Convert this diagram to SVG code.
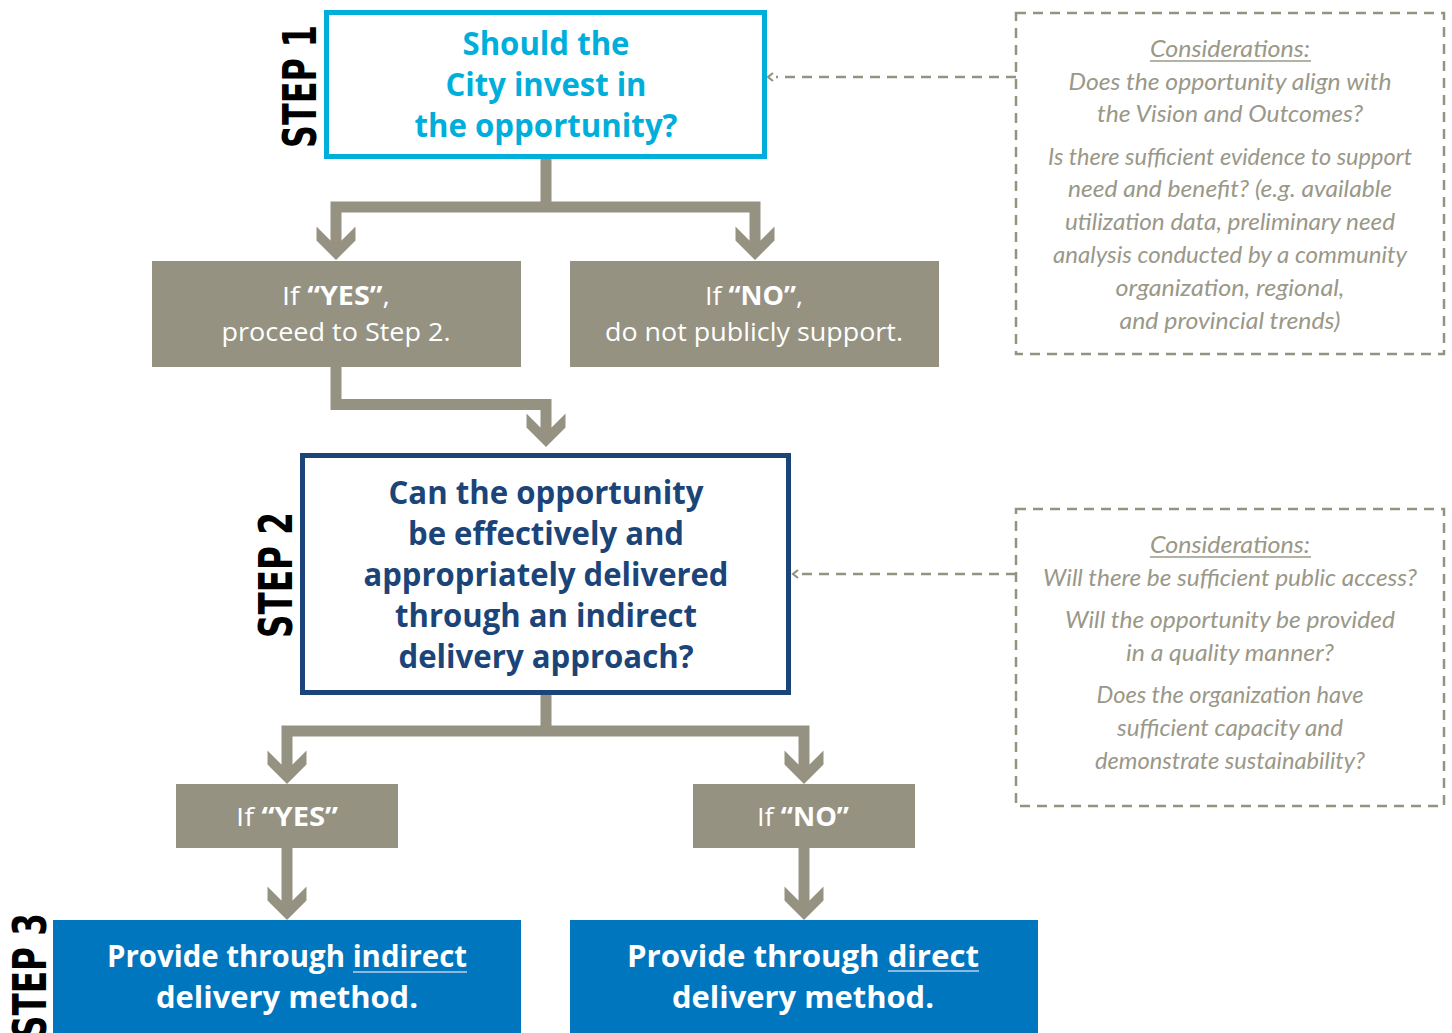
<svg xmlns="http://www.w3.org/2000/svg" width="1452" height="1033" viewBox="0 0 1452 1033">
  <style>
    .bar { fill: none; stroke: #959282; stroke-width: 11; stroke-linejoin: miter; stroke-linecap: butt; }
    .head { fill: #959282; }
    .dash { fill: none; stroke: #959282; stroke-width: 2.5; stroke-dasharray: 10 7; }
    .step { font-family: "DejaVu Sans", "Liberation Sans", sans-serif; font-weight: bold; font-size: 46px; fill: #000; }
    .q1 { font-family: "Open Sans", "Liberation Sans", sans-serif; font-weight: bold; font-size: 32px; fill: #00AEDB; text-anchor: middle; }
    .q2 { font-family: "Open Sans", "Liberation Sans", sans-serif; font-weight: bold; font-size: 32px; fill: #1B4478; text-anchor: middle; }
    .gray { fill: #959282; }
    .gt { font-family: "Open Sans", "Liberation Sans", sans-serif; font-size: 26px; fill: #fff; text-anchor: middle; }
    .gt .b { font-weight: bold; }
    .blue { fill: #0076BF; }
    .bt { font-family: "Open Sans", "Liberation Sans", sans-serif; font-weight: bold; font-size: 31px; fill: #fff; text-anchor: middle; }
    .ul { stroke: #8DB8E0; stroke-width: 2; }
    .ct { font-family: "Lato", "Open Sans", sans-serif; font-style: italic; font-weight: normal; font-size: 24px; fill: #9A9888; text-anchor: middle; }
    .cul { stroke: #9A9888; stroke-width: 1.5; }
  </style>
  <defs>
    <!-- thick chevron arrowhead, tip at origin -->
    <path id="arrow" class="head" d="M-5.5,-19.5 L-19.5,-33.5 L-19.5,-19.5 L0,0 L19.5,-19.5 L19.5,-33.5 L5.5,-19.5 Z"/>
    <!-- small open chevron for dashed leaders -->
    <path id="tick" d="M5,-4 L0,0 L5,4" fill="none" stroke="#959282" stroke-width="2.2"/>
  </defs>

  <!-- step labels -->
  <text class="step" transform="translate(316,148) rotate(-90)" textLength="123" lengthAdjust="spacingAndGlyphs">STEP 1</text>
  <text class="step" transform="translate(292,638) rotate(-90)" textLength="126" lengthAdjust="spacingAndGlyphs">STEP 2</text>
  <text class="step" transform="translate(46,1039) rotate(-90)" textLength="126" lengthAdjust="spacingAndGlyphs">STEP 3</text>

  <!-- connectors -->
  <g id="connectors">
    <path class="bar" d="M546,158 V207 M336,241 V207 H755 V241"/>
    <use href="#arrow" x="336" y="260"/>
    <use href="#arrow" x="755" y="260"/>
    <path class="bar" d="M336,367 V404.5 H546 V428"/>
    <use href="#arrow" x="546" y="447"/>
    <path class="bar" d="M546,695 V731 M287,765 V731 H804 V765"/>
    <use href="#arrow" x="287" y="784"/>
    <use href="#arrow" x="804" y="784"/>
    <path class="bar" d="M287,848 V901 M804,848 V901"/>
    <use href="#arrow" x="287" y="920"/>
    <use href="#arrow" x="804" y="920"/>
    <path class="dash" d="M1016,77 H776"/>
    <use href="#tick" x="768" y="77"/>
    <path class="dash" d="M1016,574 H800"/>
    <use href="#tick" x="793" y="574"/>
  </g>

  <!-- step 1 question -->
  <g id="step1">
    <rect x="326.5" y="12.5" width="438" height="144" fill="#fff" stroke="#00AEDB" stroke-width="5"/>
    <text class="q1" x="546" y="55" textLength="167" lengthAdjust="spacingAndGlyphs">Should the</text>
    <text class="q1" x="546" y="96" textLength="201" lengthAdjust="spacingAndGlyphs">City invest in</text>
    <text class="q1" x="546" y="137" textLength="263" lengthAdjust="spacingAndGlyphs">the opportunity?</text>
  </g>

  <g id="yes1">
    <rect class="gray" x="152" y="261" width="369" height="106"/>
    <text class="gt" x="336" y="305" textLength="108" lengthAdjust="spacingAndGlyphs">If <tspan class="b">“YES”</tspan>,</text>
    <text class="gt" x="336" y="341" textLength="229" lengthAdjust="spacingAndGlyphs">proceed to Step 2.</text>
  </g>

  <g id="no1">
    <rect class="gray" x="570" y="261" width="369" height="106"/>
    <text class="gt" x="754" y="305" textLength="98" lengthAdjust="spacingAndGlyphs">If <tspan class="b">“NO”</tspan>,</text>
    <text class="gt" x="754" y="341" textLength="298" lengthAdjust="spacingAndGlyphs">do not publicly support.</text>
  </g>

  <!-- step 2 question -->
  <g id="step2">
    <rect x="302.5" y="455.5" width="486" height="237" fill="#fff" stroke="#1B4478" stroke-width="5"/>
    <text class="q2" x="546" y="504" textLength="315" lengthAdjust="spacingAndGlyphs">Can the opportunity</text>
    <text class="q2" x="546" y="545" textLength="276" lengthAdjust="spacingAndGlyphs">be effectively and</text>
    <text class="q2" x="546" y="586" textLength="365" lengthAdjust="spacingAndGlyphs">appropriately delivered</text>
    <text class="q2" x="546" y="627" textLength="302" lengthAdjust="spacingAndGlyphs">through an indirect</text>
    <text class="q2" x="546" y="668" textLength="295" lengthAdjust="spacingAndGlyphs">delivery approach?</text>
  </g>

  <g id="yes2">
    <rect class="gray" x="176" y="784" width="222" height="64"/>
    <text class="gt" x="287" y="826" textLength="102" lengthAdjust="spacingAndGlyphs">If <tspan class="b">“YES”</tspan></text>
  </g>

  <g id="no2">
    <rect class="gray" x="693" y="784" width="222" height="64"/>
    <text class="gt" x="803" y="826" textLength="92" lengthAdjust="spacingAndGlyphs">If <tspan class="b">“NO”</tspan></text>
  </g>

  <!-- step 3 outcomes -->
  <g id="indirect">
    <rect class="blue" x="53" y="920" width="468" height="113"/>
    <text class="bt" x="287" y="967" textLength="360" lengthAdjust="spacingAndGlyphs">Provide through indirect</text>
    <line class="ul" x1="353" y1="972" x2="467" y2="972"/>
    <text class="bt" x="287" y="1008" textLength="262" lengthAdjust="spacingAndGlyphs">delivery method.</text>
  </g>

  <g id="direct">
    <rect class="blue" x="570" y="920" width="468" height="113"/>
    <text class="bt" x="803" y="967" textLength="352" lengthAdjust="spacingAndGlyphs">Provide through direct</text>
    <line class="ul" x1="888" y1="971" x2="979" y2="971"/>
    <text class="bt" x="803" y="1008" textLength="262" lengthAdjust="spacingAndGlyphs">delivery method.</text>
  </g>

  <!-- considerations for step 1 -->
  <g id="considerations1">
    <rect class="dash" x="1016" y="13" width="428" height="341"/>
    <text class="ct" x="1230" y="57" textLength="160" lengthAdjust="spacingAndGlyphs">Considerations:</text>
    <line class="cul" x1="1150" y1="61" x2="1311" y2="61"/>
    <text class="ct" x="1230" y="90" textLength="323" lengthAdjust="spacingAndGlyphs">Does the opportunity align with</text>
    <text class="ct" x="1230" y="122" textLength="266" lengthAdjust="spacingAndGlyphs">the Vision and Outcomes?</text>
    <text class="ct" x="1230" y="165" textLength="364" lengthAdjust="spacingAndGlyphs">Is there sufficient evidence to support</text>
    <text class="ct" x="1230" y="197" textLength="324" lengthAdjust="spacingAndGlyphs">need and benefit? (e.g. available</text>
    <text class="ct" x="1230" y="230" textLength="330" lengthAdjust="spacingAndGlyphs">utilization data, preliminary need</text>
    <text class="ct" x="1230" y="263" textLength="354" lengthAdjust="spacingAndGlyphs">analysis conducted by a community</text>
    <text class="ct" x="1230" y="296" textLength="229" lengthAdjust="spacingAndGlyphs">organization, regional,</text>
    <text class="ct" x="1230" y="329" textLength="221" lengthAdjust="spacingAndGlyphs">and provincial trends)</text>
  </g>

  <!-- considerations for step 2 -->
  <g id="considerations2">
    <rect class="dash" x="1016" y="509" width="428" height="297"/>
    <text class="ct" x="1230" y="553" textLength="160" lengthAdjust="spacingAndGlyphs">Considerations:</text>
    <line class="cul" x1="1150" y1="557" x2="1311" y2="557"/>
    <text class="ct" x="1230" y="586" textLength="374" lengthAdjust="spacingAndGlyphs">Will there be sufficient public access?</text>
    <text class="ct" x="1230" y="628" textLength="330" lengthAdjust="spacingAndGlyphs">Will the opportunity be provided</text>
    <text class="ct" x="1230" y="661" textLength="208" lengthAdjust="spacingAndGlyphs">in a quality manner?</text>
    <text class="ct" x="1230" y="703" textLength="267" lengthAdjust="spacingAndGlyphs">Does the organization have</text>
    <text class="ct" x="1230" y="736" textLength="226" lengthAdjust="spacingAndGlyphs">sufficient  capacity and</text>
    <text class="ct" x="1230" y="769" textLength="270" lengthAdjust="spacingAndGlyphs">demonstrate sustainability?</text>
  </g>
</svg>
